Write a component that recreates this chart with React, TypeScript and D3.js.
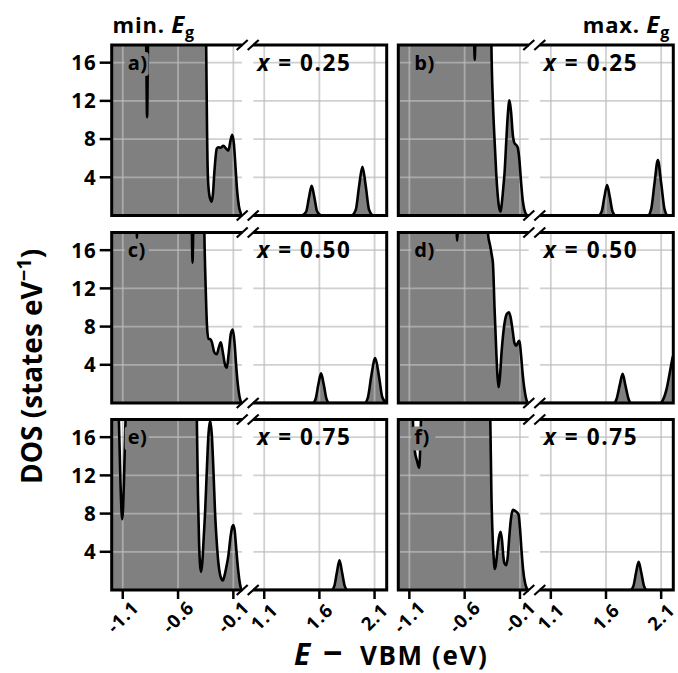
import React from 'react';
import * as d3 from 'd3';

// ---------- categories / ticks ----------
const concentrations = ['0.25', '0.50', '0.75'];
const panelLabels = [['a)', 'b)'], ['c)', 'd)'], ['e)', 'f)']];
const columnTitles = ['min.', 'max.'];
const yTicks = [4, 8, 12, 16];
const xTicksLeft = [-1.1, -0.6, -0.1];
const xTicksRight = [1.1, 1.6, 2.1];
const leftDomain: [number, number] = [-1.2, -0.02];
const rightDomain: [number, number] = [1.0, 2.21];
const yDomain: [number, number] = [0, 17.85];

// ---------- DOS data (E - VBM in eV, DOS in states/eV) ----------
// valence side (left sub-axis) and conduction side (right sub-axis)
const dosA_vb: [number, number][] = [
  [-1.2, 25], [-0.9, 25], [-0.888, 18], [-0.88, 10.3], [-0.872, 18], [-0.86, 25],
  [-0.352, 25], [-0.345, 17], [-0.338, 9], [-0.33, 4], [-0.318, 2.2], [-0.305, 1.6],
  [-0.295, 1.45], [-0.285, 2.2], [-0.27, 4.8], [-0.25, 7.0], [-0.235, 7.15], [-0.215, 7.1],
  [-0.19, 7.3], [-0.165, 7.0], [-0.145, 6.8], [-0.125, 7.9], [-0.11, 8.45], [-0.095, 7.5],
  [-0.08, 5], [-0.065, 2.5], [-0.05, 1], [-0.035, 0.3], [-0.02, 0],
];
const dosA_cb: [number, number][] = [
  [1.0, 0], [1.44, 0], [1.48, 0.4], [1.505, 1.85], [1.53, 3.1], [1.555, 1.85], [1.58, 0.4],
  [1.62, 0], [1.89, 0], [1.93, 0.6], [1.96, 3.1], [1.99, 5.1], [2.02, 3.1], [2.05, 0.6],
  [2.09, 0], [2.21, 0],
];
const dosB_vb: [number, number][] = [
  [-1.2, 25], [-0.525, 25], [-0.515, 19], [-0.509, 16.3], [-0.503, 19], [-0.493, 25],
  [-0.365, 25], [-0.358, 17.8], [-0.345, 12], [-0.33, 8], [-0.315, 4.5], [-0.3, 2],
  [-0.288, 0.8], [-0.275, 0.4], [-0.262, 1.5], [-0.25, 3.0], [-0.239, 4.5], [-0.225, 7.5],
  [-0.21, 10.5], [-0.195, 12.05], [-0.18, 10.8], [-0.165, 8.5], [-0.15, 7.6], [-0.135, 7.4],
  [-0.12, 7.1], [-0.105, 5.8], [-0.09, 3.5], [-0.075, 1.6], [-0.06, 0.6], [-0.045, 0.15],
  [-0.03, 0],
];
const dosB_cb: [number, number][] = [
  [1.0, 0], [1.53, 0], [1.56, 0.4], [1.585, 1.9], [1.61, 3.2], [1.635, 1.9], [1.66, 0.4],
  [1.69, 0], [1.98, 0], [2.01, 0.7], [2.04, 3.4], [2.07, 5.8], [2.1, 3.4], [2.13, 0.7],
  [2.16, 0], [2.21, 0],
];
const dosC_vb: [number, number][] = [
  [-1.2, 25], [-0.978, 25], [-0.972, 17.3], [-0.966, 25],
  [-0.485, 25], [-0.475, 18], [-0.469, 14.7], [-0.463, 18], [-0.453, 25],
  [-0.37, 25], [-0.362, 17.8], [-0.35, 12], [-0.338, 8], [-0.325, 6.7], [-0.31, 6.7],
  [-0.295, 6.4], [-0.272, 5.3], [-0.25, 5.1], [-0.232, 5.8], [-0.213, 6.35], [-0.195, 5.3],
  [-0.175, 4.0], [-0.159, 3.7], [-0.142, 5.2], [-0.122, 7.3], [-0.105, 7.7], [-0.09, 6.4],
  [-0.075, 4], [-0.06, 2], [-0.045, 0.7], [-0.03, 0.1], [-0.02, 0],
];
const dosC_cb: [number, number][] = [
  [1.0, 0], [1.54, 0], [1.565, 0.4], [1.59, 1.9], [1.615, 3.1], [1.64, 1.9], [1.665, 0.4],
  [1.69, 0], [2.01, 0], [2.04, 0.6], [2.07, 2.8], [2.106, 4.7], [2.14, 2.8], [2.17, 0.6],
  [2.2, 0.1], [2.21, 0.05],
];
const dosD_vb: [number, number][] = [
  [-1.2, 25], [-0.68, 25], [-0.672, 17.8], [-0.668, 17.0], [-0.664, 17.8], [-0.656, 25],
  [-0.395, 25], [-0.389, 17.7], [-0.37, 16.5], [-0.355, 15.5], [-0.344, 14.6], [-0.33, 10],
  [-0.313, 5.1], [-0.303, 2.8], [-0.293, 1.65], [-0.283, 2.5], [-0.265, 5.5], [-0.24, 8.3],
  [-0.22, 9.3], [-0.2, 9.5], [-0.185, 9], [-0.165, 7.5], [-0.15, 6.3], [-0.133, 6.0],
  [-0.115, 6.4], [-0.104, 6.5], [-0.09, 5], [-0.075, 3], [-0.06, 1.5], [-0.045, 0.5],
  [-0.03, 0],
];
const dosD_cb: [number, number][] = [
  [1.0, 0], [1.67, 0], [1.695, 0.4], [1.725, 1.9], [1.751, 3.05], [1.775, 1.9], [1.805, 0.4],
  [1.83, 0], [2.09, 0], [2.115, 0.3], [2.15, 1.5], [2.18, 3.3], [2.205, 4.8], [2.23, 5.5],
];
const dosE_vb: [number, number][] = [
  [-1.2, 25], [-1.145, 25], [-1.135, 17.8], [-1.12, 11], [-1.105, 7.4], [-1.09, 11],
  [-1.075, 17.8], [-1.065, 25], [-0.44, 25], [-0.43, 17.8], [-0.42, 10], [-0.41, 5],
  [-0.4, 2.5], [-0.391, 1.9], [-0.38, 3], [-0.368, 5.5], [-0.356, 8], [-0.34, 12.5],
  [-0.325, 16.3], [-0.31, 17.75], [-0.295, 16.3], [-0.28, 12.5], [-0.265, 8], [-0.25, 5],
  [-0.235, 2.8], [-0.22, 1.6], [-0.205, 1.1], [-0.195, 1.0], [-0.18, 1.5], [-0.165, 2.3],
  [-0.145, 3.6], [-0.125, 5.6], [-0.11, 6.6], [-0.1, 6.8], [-0.088, 6.2], [-0.075, 4.5],
  [-0.06, 2.5], [-0.045, 1], [-0.035, 0.35], [-0.024, 0],
];
const dosE_cb: [number, number][] = [
  [1.0, 0], [1.71, 0], [1.735, 0.4], [1.758, 1.8], [1.782, 3.1], [1.806, 1.8], [1.83, 0.4],
  [1.855, 0], [2.21, 0],
];
const dosF_vb: [number, number][] = [
  [-1.2, 25], [-1.08, 25], [-1.068, 17.8], [-1.05, 14.5], [-1.03, 13.5], [-1.012, 12.8],
  [-1.003, 14.5], [-0.995, 17.8], [-0.985, 25], [-0.375, 25], [-0.368, 17.8], [-0.358, 10],
  [-0.345, 5], [-0.335, 3], [-0.329, 2.2], [-0.32, 2.5], [-0.305, 4], [-0.29, 5.5],
  [-0.275, 6.1], [-0.262, 5.2], [-0.25, 3.5], [-0.24, 2.8], [-0.224, 2.6], [-0.21, 3.5],
  [-0.195, 5.8], [-0.18, 7.6], [-0.164, 8.4], [-0.145, 8.3], [-0.125, 8.1], [-0.113, 7.9],
  [-0.1, 6.5], [-0.085, 4], [-0.07, 2], [-0.055, 0.8], [-0.04, 0.2], [-0.029, 0],
];
const dosF_cb: [number, number][] = [
  [1.0, 0], [1.82, 0], [1.848, 0.4], [1.872, 1.8], [1.896, 2.95], [1.92, 1.8], [1.945, 0.4],
  [1.97, 0], [2.21, 0],
];

const panelData = [
  [[dosA_vb, dosA_cb], [dosB_vb, dosB_cb]],
  [[dosC_vb, dosC_cb], [dosD_vb, dosD_cb]],
  [[dosE_vb, dosE_cb], [dosF_vb, dosF_cb]],
];

// ---------- layout ----------
const W = 678;
const H = 673;
const colLeft = [111.7, 398.3];
const rowTop = [45, 232.5, 419.5];
const panelH = 170.5;
const leftW = 130.5;
const gapW = 11;
const rightW = 133.5;
const FONT = "'Open Sans', 'DejaVu Sans', sans-serif";
const FILL = '#808080';
const GRID = '#bcbcbc';

function Panel({ r, c }: { r: number; c: number }) {
  const x0 = colLeft[c];
  const top = rowTop[r];
  const bottom = top + panelH;
  const lx0 = x0, lx1 = x0 + leftW;
  const rx0 = lx1 + gapW, rx1 = rx0 + rightW;
  const xl = d3.scaleLinear().domain(leftDomain).range([lx0, lx1]);
  const xr = d3.scaleLinear().domain(rightDomain).range([rx0, rx1]);
  const y = d3.scaleLinear().domain(yDomain).range([bottom, top]);
  const [vb, cb] = panelData[r][c];
  const mkArea = (x: d3.ScaleLinear<number, number>) =>
    d3.area<[number, number]>().x(d => x(d[0])).y0(y(0)).y1(d => y(d[1])).curve(d3.curveMonotoneX);
  const mkLine = (x: d3.ScaleLinear<number, number>) =>
    d3.line<[number, number]>().x(d => x(d[0])).y(d => y(d[1])).curve(d3.curveMonotoneX);
  const idL = `clipL${r}${c}`;
  const idR = `clipR${r}${c}`;
  const showX = r === 2;
  const showY = c === 0;
  const breakD = (bx: number, by: number) => `M${bx - 5.5},${by + 5}L${bx + 5.5},${by - 5}`;
  const label = panelLabels[r][c];
  return (
    <g>
      <defs>
        <clipPath id={idL}><rect x={lx0} y={top} width={leftW} height={panelH} /></clipPath>
        <clipPath id={idR}><rect x={rx0} y={top} width={rightW} height={panelH} /></clipPath>
      </defs>
      {/* left sub axis */}
      <g clipPath={`url(#${idL})`}>
        <path d={mkArea(xl)(vb) || ''} fill={FILL} />
        {xTicksLeft.map(t => (
          <line key={t} x1={xl(t)} x2={xl(t)} y1={top} y2={bottom} stroke={GRID} strokeOpacity={0.7} strokeWidth={1.8} />
        ))}
        {yTicks.map(t => (
          <line key={t} x1={lx0} x2={lx1} y1={y(t)} y2={y(t)} stroke={GRID} strokeOpacity={0.7} strokeWidth={1.8} />
        ))}
        <path d={mkLine(xl)(vb) || ''} fill="none" stroke="#000" strokeWidth={2.6} strokeLinejoin="round" />
      </g>
      {/* right sub axis */}
      <g clipPath={`url(#${idR})`}>
        <path d={mkArea(xr)(cb) || ''} fill={FILL} />
        {xTicksRight.map(t => (
          <line key={t} x1={xr(t)} x2={xr(t)} y1={top} y2={bottom} stroke={GRID} strokeOpacity={0.7} strokeWidth={1.8} />
        ))}
        {yTicks.map(t => (
          <line key={t} x1={rx0} x2={rx1} y1={y(t)} y2={y(t)} stroke={GRID} strokeOpacity={0.7} strokeWidth={1.8} />
        ))}
        <path d={mkLine(xr)(cb) || ''} fill="none" stroke="#000" strokeWidth={2.6} strokeLinejoin="round" />
      </g>
      {/* panel label with box */}
      <rect x={lx0 + 13} y={top + 7} width={24} height={24} rx={3} fill={FILL} />
      <text x={lx0 + 16} y={top + 24.5} fontFamily={FONT} fontWeight="bold" fontSize={20} letterSpacing={0.5} fill="#000">{label}</text>
      {/* concentration */}
      <text x={rx0 + 4} y={top + 25.5} fontFamily={FONT} fontWeight="bold" fontSize={22.5} letterSpacing={1.6} fill="#000">
        <tspan fontStyle="italic">x</tspan>
        <tspan> = {concentrations[r]}</tspan>
      </text>
      {/* spines */}
      <path d={`M${lx1},${top}H${lx0}V${bottom}H${lx1}`} fill="none" stroke="#000" strokeWidth={3} />
      <path d={`M${rx0},${top}H${rx1}V${bottom}H${rx0}`} fill="none" stroke="#000" strokeWidth={3} />
      {/* break marks */}
      {[lx1, rx0].map(bx => (
        <g key={bx}>
          <path d={breakD(bx, top)} stroke="#000" strokeWidth={2.2} />
          <path d={breakD(bx, bottom)} stroke="#000" strokeWidth={2.2} />
        </g>
      ))}
      {/* y ticks */}
      {showY && yTicks.map(t => (
        <g key={t}>
          <line x1={lx0 - 12} x2={lx0} y1={y(t)} y2={y(t)} stroke="#000" strokeWidth={2.5} />
          <text x={lx0 - 15} y={y(t)} dy="0.36em" textAnchor="end" fontFamily={FONT} fontWeight="bold" fontSize={20.5} letterSpacing={1}>{t}</text>
        </g>
      ))}
      {/* x ticks */}
      {showX && xTicksLeft.map(t => (
        <g key={t}>
          <line x1={xl(t)} x2={xl(t)} y1={bottom} y2={bottom + 9} stroke="#000" strokeWidth={2.5} />
          <text transform={`translate(${xl(t)},${bottom + 27}) rotate(-45)`} textAnchor="middle" dy="0.35em"
            fontFamily={FONT} fontWeight="bold" fontSize={18.5} letterSpacing={0.8}>{t.toFixed(1)}</text>
        </g>
      ))}
      {showX && xTicksRight.map(t => (
        <g key={t}>
          <line x1={xr(t)} x2={xr(t)} y1={bottom} y2={bottom + 9} stroke="#000" strokeWidth={2.5} />
          <text transform={`translate(${xr(t)},${bottom + 27}) rotate(-45)`} textAnchor="middle" dy="0.35em"
            fontFamily={FONT} fontWeight="bold" fontSize={18.5} letterSpacing={0.8}>{t.toFixed(1)}</text>
        </g>
      ))}
    </g>
  );
}

export default function App() {
  return (
    <svg width={W} height={H} style={{ position: 'absolute', left: 0, top: 0, background: '#fff' }}>
      <rect x={0} y={0} width={W} height={H} fill="#fff" />
      {[0, 1, 2].map(r => [0, 1].map(c => <Panel key={`${r}${c}`} r={r} c={c} />))}
      {/* column titles */}
      <text x={112.5} y={33} fontFamily={FONT} fontWeight="bold" fontSize={22} letterSpacing={0.8}>
        {columnTitles[0]} <tspan fontStyle="italic" fontSize={24}>E</tspan>
        <tspan fontSize={16} dy={5}>g</tspan>
      </text>
      <text x={670} y={33} textAnchor="end" fontFamily={FONT} fontWeight="bold" fontSize={22} letterSpacing={0.8}>
        {columnTitles[1]} <tspan fontStyle="italic" fontSize={24}>E</tspan>
        <tspan fontSize={16} dy={5}>g</tspan>
      </text>
      {/* y label */}
      <text transform="translate(42,484) rotate(-90)" textAnchor="start" fontFamily={FONT} fontWeight="bold" fontSize={28}>
        DOS (states eV<tspan fontSize={20} dy={-11}>−1</tspan><tspan dy={11}>)</tspan>
      </text>
      {/* x label */}
      <text x={294} y={665} fontFamily={FONT} fontWeight="bold" fontStyle="italic" fontSize={30}>E</text>
      <text x={323} y={665} fontFamily={FONT} fontWeight="bold" fontSize={34}>−</text>
      <text x={360} y={665} fontFamily={FONT} fontWeight="bold" fontSize={26} letterSpacing={1.6}>VBM (eV)</text>
    </svg>
  );
}
